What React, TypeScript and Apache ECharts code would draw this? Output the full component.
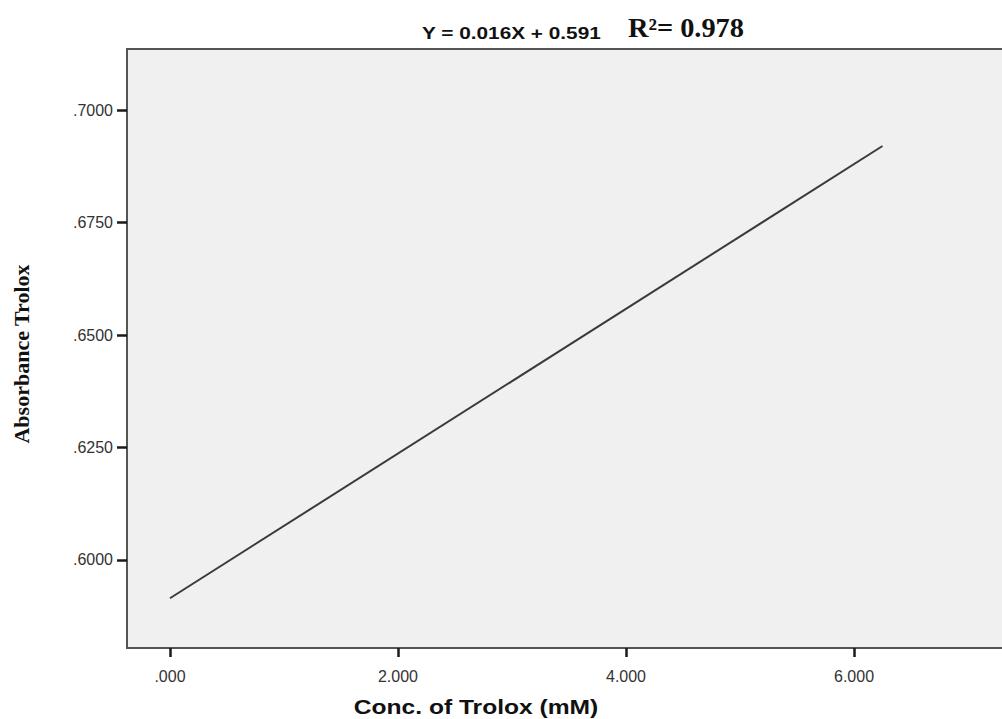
import React, { useEffect, useRef } from "react";
import * as echarts from "echarts";

const xValues = [0, 6.25];
const yValues = [0.5915, 0.692];
const xTicks = [0, 2, 4, 6];
const xTickLabels = [".000", "2.000", "4.000", "6.000"];
const yTicks = [0.6, 0.625, 0.65, 0.675, 0.7];
const yTickLabels = [".6000", ".6250", ".6500", ".6750", ".7000"];
const equationText = "Y = 0.016X + 0.591";
const r2Text = "R²= 0.978";
const xName = "Conc. of Trolox (mM)";
const yName = "Absorbance Trolox";

export default function App() {
  const ref = useRef<HTMLDivElement>(null);
  useEffect(() => {
    if (!ref.current) return;
    const chart = echarts.init(ref.current, null, { renderer: "svg" });
    const labelFor = (ticks: number[], labels: string[]) => (v: number) => {
      const i = ticks.findIndex((t) => Math.abs(t - v) < 1e-6);
      return i >= 0 ? labels[i] : "";
    };
    chart.setOption({
      animation: false,
      backgroundColor: "#ffffff",
      grid: {
        left: 127,
        top: 49,
        right: -5,
        bottom: 71,
        containLabel: false,
        outerBoundsMode: "none",
        show: true,
        backgroundColor: "#f0f0f0",
        borderColor: "#555555",
        borderWidth: 2,
      },
      xAxis: {
        type: "value",
        min: -0.377,
        max: 7.342,
        splitLine: { show: false },
        axisLine: { show: true, onZero: false, lineStyle: { color: "#555", width: 2 } },
        axisTick: { show: true, inside: false, customValues: xTicks, length: 9, lineStyle: { color: "#1a1a1a", width: 2.5 } },
        axisLabel: {
          customValues: xTicks,
          formatter: labelFor(xTicks, xTickLabels),
          fontFamily: "Liberation Sans, Arial",
          fontSize: 16,
          color: "#333",
          margin: 20,
        },
      },
      yAxis: {
        type: "value",
        min: 0.58044,
        max: 0.71356,
        splitLine: { show: false },
        axisLine: { show: true, onZero: false, lineStyle: { color: "#555", width: 2 } },
        axisTick: { show: true, inside: false, customValues: yTicks, length: 10, lineStyle: { color: "#1a1a1a", width: 2.5 } },
        axisLabel: {
          customValues: yTicks,
          formatter: labelFor(yTicks, yTickLabels),
          fontFamily: "Liberation Sans, Arial",
          fontSize: 16,
          color: "#333",
          margin: 14,
        },
      },
      graphic: [
        {
          type: "text",
          x: 422,
          y: 33,
          scaleX: 1.3,
          style: {
            text: equationText,
            font: "bold 16px 'Liberation Sans', Arial",
            fill: "#111",
            align: "left",
            verticalAlign: "middle",
          },
        },
        {
          type: "text",
          x: 628,
          y: 28,
          scaleX: 1.05,
          style: {
            text: r2Text,
            font: "bold 27px 'Liberation Serif', 'Times New Roman'",
            fill: "#111",
            align: "left",
            verticalAlign: "middle",
          },
        },
        {
          type: "text",
          x: 476,
          y: 707,
          scaleX: 1.23,
          style: {
            text: xName,
            font: "bold 20px 'Liberation Sans', Arial",
            fill: "#111",
            align: "center",
            verticalAlign: "middle",
          },
        },
        {
          type: "text",
          x: 21,
          y: 354,
          rotation: Math.PI / 2,
          style: {
            text: yName,
            font: "bold 22px 'Liberation Serif', 'Times New Roman'",
            fill: "#111",
            align: "center",
            verticalAlign: "middle",
          },
        },
      ],
      series: [
        {
          type: "line",
          data: xValues.map((x, i) => [x, yValues[i]]),
          symbol: "none",
          lineStyle: { color: "#3a3a3a", width: 2 },
        },
      ],
    });
    return () => chart.dispose();
  }, []);
  return <div ref={ref} style={{ position: "absolute", left: 0, top: 0, width: 1002, height: 719 }} />;
}
